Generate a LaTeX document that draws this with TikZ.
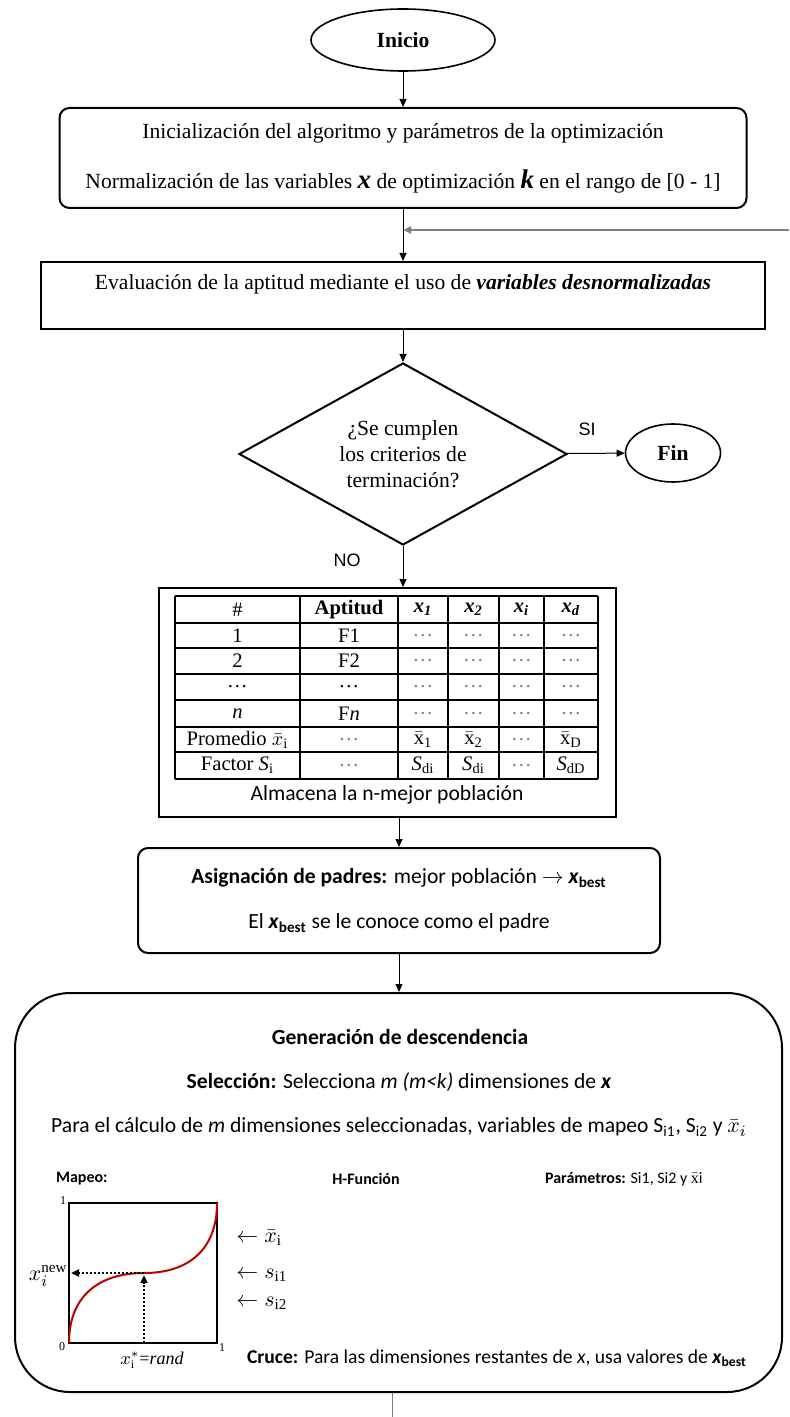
\documentclass[tikz,border=0pt]{standalone}
\usepackage{fontspec}
\setmainfont{Liberation Serif}
\newfontfamily\carlito{Carlito}
\newfontfamily\arialfont{Liberation Sans}
\usetikzlibrary{shapes.geometric,arrows.meta}

\newcommand{\xbest}{\textbf{\textit{x}}\textsubscript{\textbf{best}}}
\newcommand{\xcol}[1]{\textbf{\textit{x}\textsubscript{\textit{#1}}}}

\begin{document}
\begin{tikzpicture}[x=0.5pt,y=-0.5pt,>={Triangle[length=4pt,width=3.5pt]},
  font=\fontsize{10.8}{13}\selectfont,
  term/.style={ellipse,draw,line width=0.8pt,inner sep=0pt,font=\bfseries\fontsize{10.8}{13}\selectfont},
  proc/.style={rectangle,draw,line width=1pt,align=center,inner sep=0pt},
  rproc/.style={proc,rounded corners=5pt},
  decision/.style={diamond,draw,line width=1pt,align=center,inner sep=0pt,aspect=1.8},
  cell/.style={inner sep=0pt,font=\fontsize{10.3}{12}\selectfont},
  sans/.style={font=\carlito\fontsize{10.8}{13}\selectfont},
  sanssm/.style={font=\carlito\fontsize{9.8}{12}\selectfont},
  tiny/.style={font=\carlito\fontsize{8}{10}\selectfont},
  lab/.style={font=\arialfont\fontsize{9}{10}\selectfont},
  flow/.style={->,line width=0.5pt}]

\useasboundingbox (0,0) rectangle (789,1417);

% flujo principal
\node[term,minimum width=92pt,minimum height=31pt] (inicio) at (403,40) {Inicio};
\node[rproc,minimum width=343.5pt,minimum height=50pt] (init) at (403,158) {Inicialización del algoritmo y parámetros de la optimización\\[12pt]
  Normalización de las variables {\fontsize{13.5}{13}\selectfont\textbf{\textit{x}}} de optimización {\fontsize{13.5}{13}\selectfont\textbf{\textit{k}}} en el rango de [0 - 1]};
\node[proc,minimum width=362pt,minimum height=33.5pt,text height=7.5pt,text depth=13.5pt,inner ysep=6pt] (eval) at (403,295.5) {Evaluación de la aptitud mediante el uso de \textbf{\textit{variables desnormalizadas}}};
\node[decision,minimum width=164pt,minimum height=91pt] (crit) at (403,454) {¿Se cumplen\\los criterios de\\terminación?};
\node[term,minimum width=47.5pt,minimum height=29pt] (fin) at (673,453) {Fin};
\node[lab] (si) at (587,429) {SI};
\node[lab] (no) at (347,560) {NO};

% tabla de la poblacion
\node[proc,minimum width=228.5pt,minimum height=114.5pt] (tabla) at (387.5,702.5) {};
\foreach \xx in {175,300,398,448,499,544,598}
  \draw[line width=0.6pt] (\xx,596) -- (\xx,779);
\foreach \yy in {596,623,648,674,700,727,752,779}
  \draw[line width=0.6pt] (175,\yy) -- (598,\yy);
\foreach \xx/\txt [count=\c] in {237.5/\#,349/\textbf{Aptitud},423/\xcol{1},473.5/\xcol{2},521.5/\xcol{i},571/\xcol{d}}
  \node[cell] (h-\c) at (\xx,609.5) {\txt};
\foreach \a/\b/\yy [count=\r] in {1/F1/635.5,2/F2/661,\ldots/\ldots/687,\textit{n}/F\textit{n}/713.5}{
  \node[cell] (r\r-1) at (237.5,\yy) {\a};
  \node[cell] (r\r-2) at (349,\yy) {\b};
  \foreach \xx [count=\c from 3] in {423,473.5,521.5,571}
    \node[cell,gray] (r\r-\c) at (\xx,\yy) {\ldots};
}
\node[cell] (p-1) at (237.5,739.5) {Promedio $\bar{x}_{\mathrm{i}}$};
\node[cell,gray] (p-2) at (349,739.5) {\ldots};
\node[cell] (p-3) at (423,739.5) {$\bar{\mathrm{x}}$\textsubscript{1}};
\node[cell] (p-4) at (473.5,739.5) {$\bar{\mathrm{x}}$\textsubscript{2}};
\node[cell,gray] (p-5) at (521.5,739.5) {\ldots};
\node[cell] (p-6) at (571,739.5) {$\bar{\mathrm{x}}$\textsubscript{D}};
\node[cell] (f-1) at (237.5,765.5) {Factor \textit{S}\textsubscript{i}};
\node[cell,gray] (f-2) at (349,765.5) {\ldots};
\node[cell] (f-3) at (423,765.5) {\textit{S}\textsubscript{di}};
\node[cell] (f-4) at (473.5,765.5) {\textit{S}\textsubscript{di}};
\node[cell,gray] (f-5) at (521.5,765.5) {\ldots};
\node[cell] (f-6) at (571,765.5) {\textit{S}\textsubscript{dD}};
\node[sans] (almacena) at (387,795) {Almacena la n-mejor población};

% padres
\node[rproc,sans,minimum width=261pt,minimum height=52.5pt] (padres) at (399,900.5) {\textbf{Asignación de padres:} mejor población $\rightarrow$ \xbest\\[9.5pt]
  El \xbest{} se le conoce como el padre};

% descendencia
\node[proc,rounded corners=27.5pt,minimum width=383.5pt,minimum height=199.5pt] (gen) at (398.5,1192.5) {};
\node[sans] (gentit) at (400,1037) {\textbf{Generación de descendencia}};
\node[sans] (sel) at (399,1082) {\textbf{Selección:} Selecciona \textit{m (m<k)} dimensiones de \textbf{\textit{x}}};
\node[sans,inner sep=1pt] (para) at (399,1127) {Para el cálculo de \textit{m} dimensiones seleccionadas, variables de mapeo S\textsubscript{i1}, S\textsubscript{i2} y $\bar{x}_i$};
\node[tiny,anchor=west] (mapeo) at (49,1179) {\textbf{Mapeo:}};
\node[tiny] (hfun) at (366,1179) {\textbf{H-Función}};
\node[tiny,anchor=west] (param) at (538,1179) {\textbf{Parámetros:} Si1, Si2 y $\bar{\mathrm{x}}$i};
\node[sanssm,anchor=west] (cruce) at (240,1358) {\textbf{Cruce:} Para las dimensiones restantes de \textit{x}, usa valores de \xbest};

% grafica del mapeo
\draw[line width=1pt] (69,1203) rectangle (217,1343);
\draw[line width=1pt,red!75!black] (69,1343) .. controls (69,1295) and (100,1273) .. (144,1273)
  .. controls (188,1273) and (217,1250) .. (217,1203);
\coordinate (rnd) at (144,1343);
\coordinate (pm) at (144,1275);
\coordinate (xn) at (71,1273);
\draw[->,densely dotted,line width=1pt] (rnd) -- (pm);
\draw[->,densely dotted,line width=1pt] (pm |- xn) -- (xn);
\node[font=\fontsize{6}{7}\selectfont] (uno) at (63,1201) {1};
\node[font=\fontsize{6}{7}\selectfont] (cero) at (62,1347) {0};
\node[font=\fontsize{6}{7}\selectfont] (unox) at (222,1348) {1};
\node[anchor=east,inner sep=1pt] (xnew) at (70,1276) {$x_i^{\mathrm{new}}$};
\node[font=\fontsize{9}{10}\selectfont] (xrand) at (152,1360) {$x^{*}_{\mathrm{i}}$=\textit{rand}};
\node[anchor=west,inner sep=0pt] (lbar) at (236,1238) {$\leftarrow\bar{x}_{\mathrm{i}}$};
\node[anchor=west,inner sep=0pt] (ls1) at (236,1275) {$\leftarrow s_{\mathrm{i1}}$};
\node[anchor=west,inner sep=0pt] (ls2) at (236,1303) {$\leftarrow s_{\mathrm{i2}}$};

% conectores
\coordinate (lazo) at (789,230);
\coordinate (salida) at (392,1417);
\draw[flow] (inicio) -- (init);
\draw[flow] (init) -- (eval);
\draw[flow,gray,line width=1.2pt] (lazo) -- (lazo -| init);
\draw[flow] (eval) -- (crit);
\draw[flow] (crit) -- (fin);
\draw[flow] (crit) -- (crit |- tabla.north);
\draw[flow] (tabla.south -| padres) -- (padres);
\draw[flow] (padres) -- (padres |- gen.north);
\draw[line width=0.5pt,gray] (gen.south -| salida) -- (salida);

\end{tikzpicture}
\end{document}
